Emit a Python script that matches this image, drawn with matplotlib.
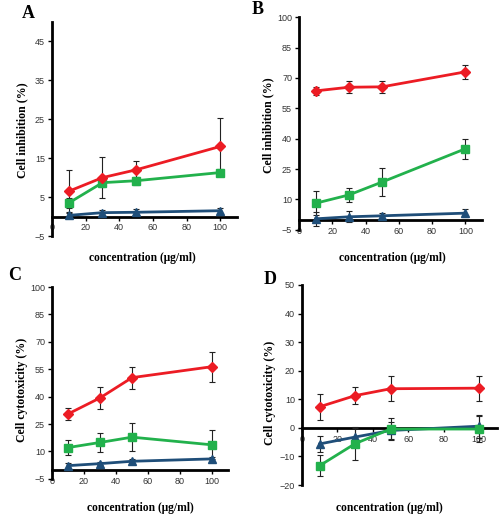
import matplotlib
matplotlib.use("Agg")
import matplotlib.pyplot as plt

conc = [10, 30, 50, 100]

# panel A - cell inhibition
a_red = [6.5, 10.0, 12.0, 18.0]
a_red_err = [5.5, 5.2, 2.3, 7.2]
a_green = [3.5, 8.7, 9.2, 11.3]
a_green_err = [1.2, 1.2, 1.0, 0.8]
a_blue = [0.3, 1.0, 1.1, 1.5]
a_blue_err = [0.8, 0.8, 0.9, 0.8]

# panel B - cell inhibition
b_red = [63.6, 65.4, 65.6, 73.0]
b_red_err = [2.0, 3.0, 3.0, 3.5]
b_green = [8.1, 12.2, 18.6, 35.0]
b_green_err = [6.0, 3.6, 7.0, 5.0]
b_blue = [0.4, 1.4, 1.9, 3.2]
b_blue_err = [3.3, 2.7, 1.5, 2.0]

# panel C - cytotoxicity
c_red = [30.5, 39.3, 50.4, 56.4]
c_red_err = [3.3, 6.0, 6.0, 8.3]
c_green = [12.1, 14.9, 17.8, 13.6]
c_green_err = [4.0, 5.0, 7.5, 8.0]
c_blue = [2.2, 3.3, 4.6, 5.9]
c_blue_err = [1.2, 1.0, 1.0, 1.0]

# panel D - cytotoxicity
d_red = [7.4, 11.3, 13.7, 13.9]
d_red_err = [4.6, 2.9, 4.3, 4.4]
d_green = [-13.2, -5.5, -0.4, -0.4]
d_green_err = [3.8, 5.8, 3.8, 4.5]
d_blue = [-5.6, -3.2, -0.9, 0.6]
d_blue_err = [2.9, 3.2, 3.0, 4.0]

RED = '#ec1c24'
GREEN = '#22b14c'
BLUE = '#1f4e79'

serif = 'Liberation Serif'
sans = 'Liberation Sans'

W, H = 500, 521
fig = plt.figure(figsize=(5, 5.21), dpi=100)

panels = [
    # letter, rect, data, ylim, yticks, ylabel, label pixel positions
    ('A', [0.104, 0.547, 0.370, 0.411],
     (a_red, a_red_err, a_green, a_green_err, a_blue, a_blue_err),
     (-5, 50), list(range(-5, 50, 10)), 'Cell inhibition (%)',
     (28, 14), (22, 130), (142, 258)),
    ('B', [0.598, 0.559, 0.366, 0.408],
     (b_red, b_red_err, b_green, b_green_err, b_blue, b_blue_err),
     (-5, 100), list(range(-5, 101, 15)), 'Cell inhibition (%)',
     (258, 9), (268, 125), (392, 258)),
    ('C', [0.104, 0.081, 0.352, 0.368],
     (c_red, c_red_err, c_green, c_green_err, c_blue, c_blue_err),
     (-5, 100), list(range(-5, 101, 15)), 'Cell cytotoxicity (%)',
     (15, 276), (22, 390), (140, 508)),
    ('D', [0.604, 0.069, 0.390, 0.384],
     (d_red, d_red_err, d_green, d_green_err, d_blue, d_blue_err),
     (-20, 50), list(range(-20, 51, 10)), 'Cell cytotoxicity (%)',
     (270, 279), (270, 393), (389, 508)),
]

for letter, rect, data, ylim, yticks, ylabel, let_pos, yl_pos, xl_pos in panels:
    ax = fig.add_axes(rect)
    red, red_err, green, green_err, blue, blue_err = data

    for vals, errs, col, mk, ms in [(blue, blue_err, BLUE, '^', 6),
                                    (green, green_err, GREEN, 's', 5.5),
                                    (red, red_err, RED, 'D', 5)]:
        ax.errorbar(conc, vals, yerr=errs, color=col, ecolor='#222222',
                    elinewidth=0.8, capsize=2.5, capthick=0.8,
                    marker=mk, markersize=ms, linewidth=2, zorder=3,
                    clip_on=False)

    ax.set_xlim(0, 110)
    ax.set_ylim(*ylim)
    ax.set_xticks([0, 20, 40, 60, 80, 100])
    ax.set_yticks(yticks)

    ax.spines['top'].set_visible(False)
    ax.spines['right'].set_visible(False)
    ax.spines['bottom'].set_position(('data', 0))
    ax.spines['left'].set_linewidth(2)
    ax.spines['bottom'].set_linewidth(2)
    ax.tick_params(direction='out', length=3, width=1, labelsize=6.5, pad=2)
    for t in ax.get_xticklabels() + ax.get_yticklabels():
        t.set_fontfamily(sans)
        t.set_color('#333333')

    fig.text(yl_pos[0] / W, 1 - yl_pos[1] / H, ylabel, rotation=90,
             ha='center', va='center', fontfamily=serif, fontweight='bold',
             fontsize=8.5)
    fig.text(xl_pos[0] / W, 1 - xl_pos[1] / H, 'concentration (\u03bcg/ml)',
             ha='center', va='center', fontfamily=serif, fontweight='bold',
             fontsize=8.3)
    fig.text(let_pos[0] / W, 1 - let_pos[1] / H, letter, ha='center',
             va='center', fontfamily=serif, fontweight='bold', fontsize=13)

fig.savefig('out.png', dpi=100)
